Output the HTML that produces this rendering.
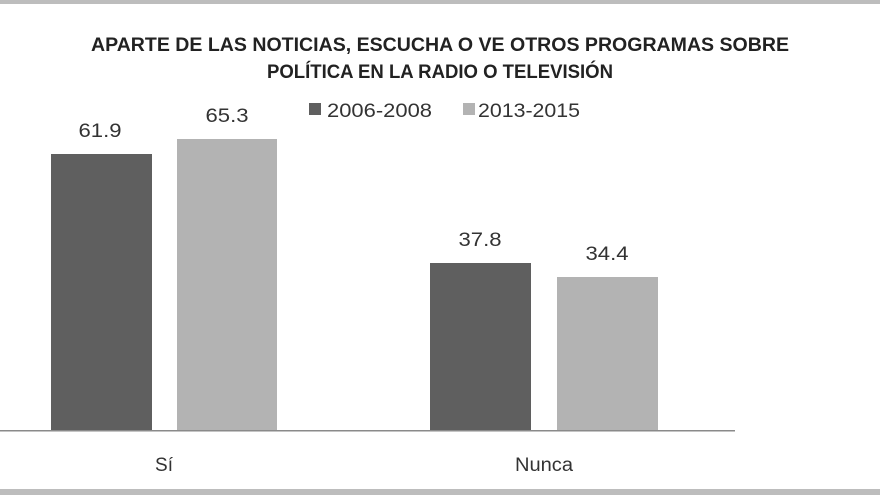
<!DOCTYPE html>
<html><head><meta charset="utf-8"><style>html,body{margin:0;padding:0;background:#fff}svg{display:block}</style></head>
<body>
<svg width="880" height="495" viewBox="0 0 880 495" xmlns="http://www.w3.org/2000/svg" font-family="'Liberation Sans', sans-serif">
<rect x="0" y="0" width="880" height="495" fill="#fff"/>
<rect x="0" y="0" width="880" height="4" fill="#bdbdbd"/>
<rect x="0" y="489" width="880" height="6" fill="#bdbdbd"/>
<text x="440" y="51" font-size="19" font-weight="bold" fill="#222" text-anchor="middle" textLength="698" lengthAdjust="spacingAndGlyphs">APARTE DE LAS NOTICIAS, ESCUCHA O VE OTROS PROGRAMAS SOBRE</text>
<text x="440" y="78" font-size="19" font-weight="bold" fill="#222" text-anchor="middle" textLength="346" lengthAdjust="spacingAndGlyphs">POLÍTICA EN LA RADIO O TELEVISIÓN</text>
<rect x="309" y="103" width="12" height="12" fill="#5f5f5f"/>
<text x="327" y="117" font-size="19" fill="#333" textLength="105" lengthAdjust="spacingAndGlyphs">2006-2008</text>
<rect x="463" y="103" width="12" height="12" fill="#b3b3b3"/>
<text x="478" y="117" font-size="19" fill="#333" textLength="102" lengthAdjust="spacingAndGlyphs">2013-2015</text>
<rect x="51" y="154" width="101" height="276" fill="#5f5f5f"/>
<rect x="177" y="139" width="100" height="291" fill="#b3b3b3"/>
<rect x="430" y="263" width="101" height="167" fill="#5f5f5f"/>
<rect x="557" y="277" width="101" height="153" fill="#b3b3b3"/>
<text x="100" y="137" font-size="19" fill="#333" text-anchor="middle" textLength="43" lengthAdjust="spacingAndGlyphs">61.9</text>
<text x="227" y="122" font-size="19" fill="#333" text-anchor="middle" textLength="43" lengthAdjust="spacingAndGlyphs">65.3</text>
<text x="480" y="246" font-size="19" fill="#333" text-anchor="middle" textLength="43" lengthAdjust="spacingAndGlyphs">37.8</text>
<text x="607" y="260" font-size="19" fill="#333" text-anchor="middle" textLength="43" lengthAdjust="spacingAndGlyphs">34.4</text>
<rect x="0" y="430" width="735" height="1.5" fill="#8a8a8a"/>
<text x="164" y="471" font-size="19" fill="#333" text-anchor="middle">Sí</text>
<text x="544" y="471" font-size="19" fill="#333" text-anchor="middle" textLength="58" lengthAdjust="spacingAndGlyphs">Nunca</text>
</svg>
</body></html>
